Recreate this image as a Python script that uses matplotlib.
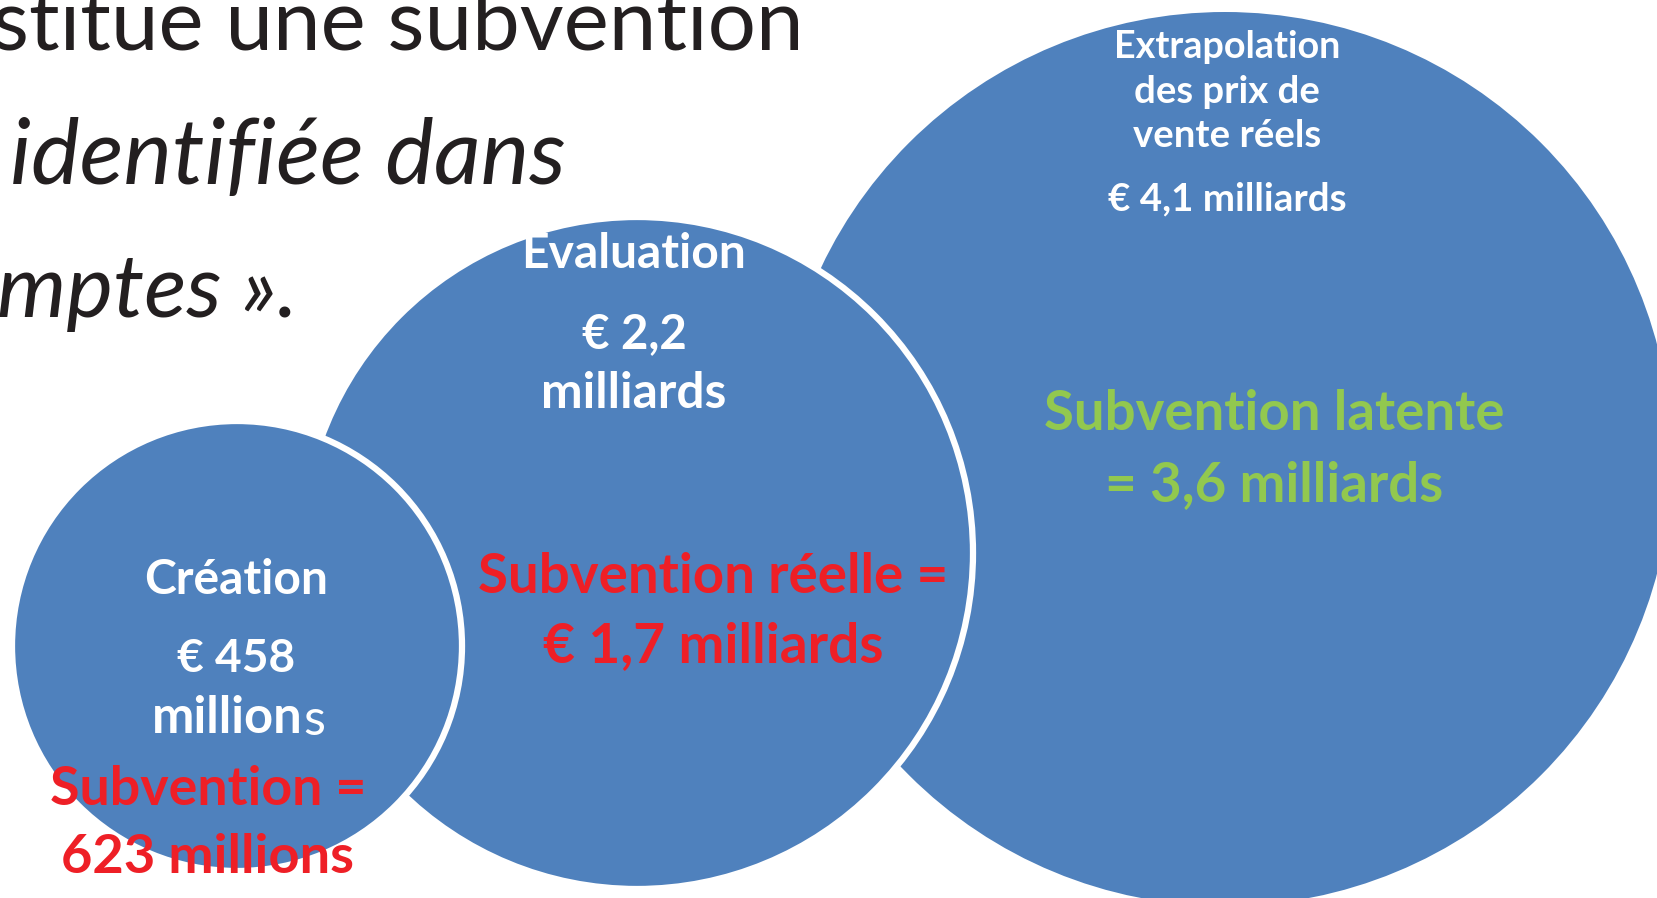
import matplotlib.pyplot as plt
from matplotlib.patches import Circle

# les trois estimations (libellés + montants)
stages = ["Création", "Evaluation", "Extrapolation\ndes prix de\nvente réels"]
amounts = ["€ 458", "€ 2,2", "€ 4,1 milliards"]
units = ["millions", "milliards", ""]
subsidies = ["Subvention =\n623 millions", "Subvention réelle =\n€ 1,7 milliards",
             "Subvention latente\n= 3,6 milliards"]
intro_lines = ["stitue une subvention", "identifiée dans", "mptes »."]

blue = "#4f81bd"
red = "#ee1f26"
green = "#92c84f"
dark = "#231f20"

W, H = 1658, 898
fig = plt.figure(figsize=(W / 100, H / 100), dpi=100)
ax = fig.add_axes([0, 0, 1, 1])
ax.set_xlim(0, W)
ax.set_ylim(H, 0)
ax.set_aspect("equal")
ax.axis("off")
plt.rcParams["font.family"] = ["Lato", "DejaVu Sans"]

fig.canvas.draw()
renderer = fig.canvas.get_renderer()


def fit_text(x, y, s, width, color="white", weight="bold", style="normal", ha="center", zorder=10):
    # taille de police ajustée pour retrouver la largeur
    t = ax.text(x, y, s, color=color, fontweight=weight, fontstyle=style,
                ha=ha, va="center", fontsize=30, zorder=zorder)
    w = t.get_window_extent(renderer).width
    t.set_fontsize(30 * width / w)
    return t


# texte du haut (coupé à gauche)
fit_text(804, 25, intro_lines[0], 810, color=dark, weight="normal", ha="right")
fit_text(566, 159, intro_lines[1], 555, color=dark, weight="normal", style="italic", ha="right")
fit_text(298, 292, intro_lines[2], 300, color=dark, weight="normal", style="italic", ha="right")

# cercles : grand, moyen, petit
ax.add_patch(Circle((1225, 459), 447, facecolor=blue, edgecolor="none", zorder=1))
ax.add_patch(Circle((637, 553), 336, facecolor=blue, edgecolor="white", lw=4.5, zorder=2))
ax.add_patch(Circle((237, 646), 225, facecolor=blue, edgecolor="white", lw=4.5, zorder=3))

# petit cercle
fit_text(236, 580, stages[0], 184)
fit_text(236, 659, amounts[0], 118)
t = fit_text(303, 719, "million", 151, ha="right")
ax.text(303, 721, "s", color="white", ha="left", va="center",
        fontsize=t.get_fontsize())
sub1 = subsidies[0].split("\n")
fit_text(208, 790, sub1[0], 317, color=red)
fit_text(208, 858, sub1[1], 293, color=red)

# cercle moyen
fit_text(634, 254, stages[1], 225)
fit_text(634, 334, amounts[1], 105)
fit_text(634, 394, units[1], 185)
sub2 = subsidies[1].split("\n")
fit_text(713, 577, sub2[0], 470, color=red)
fit_text(713, 646, sub2[1], 340, color=red)

# grand cercle
for line, yy, ww in zip(stages[2].split("\n"), [47, 92, 136], [227, 185, 188]):
    fit_text(1227, yy, line, ww)
fit_text(1227, 199, amounts[2], 238)
sub3 = subsidies[2].split("\n")
fit_text(1274, 414, sub3[0], 460, color=green)
fit_text(1274, 485, sub3[1], 338, color=green)

fig.savefig("out.png", dpi=100)
